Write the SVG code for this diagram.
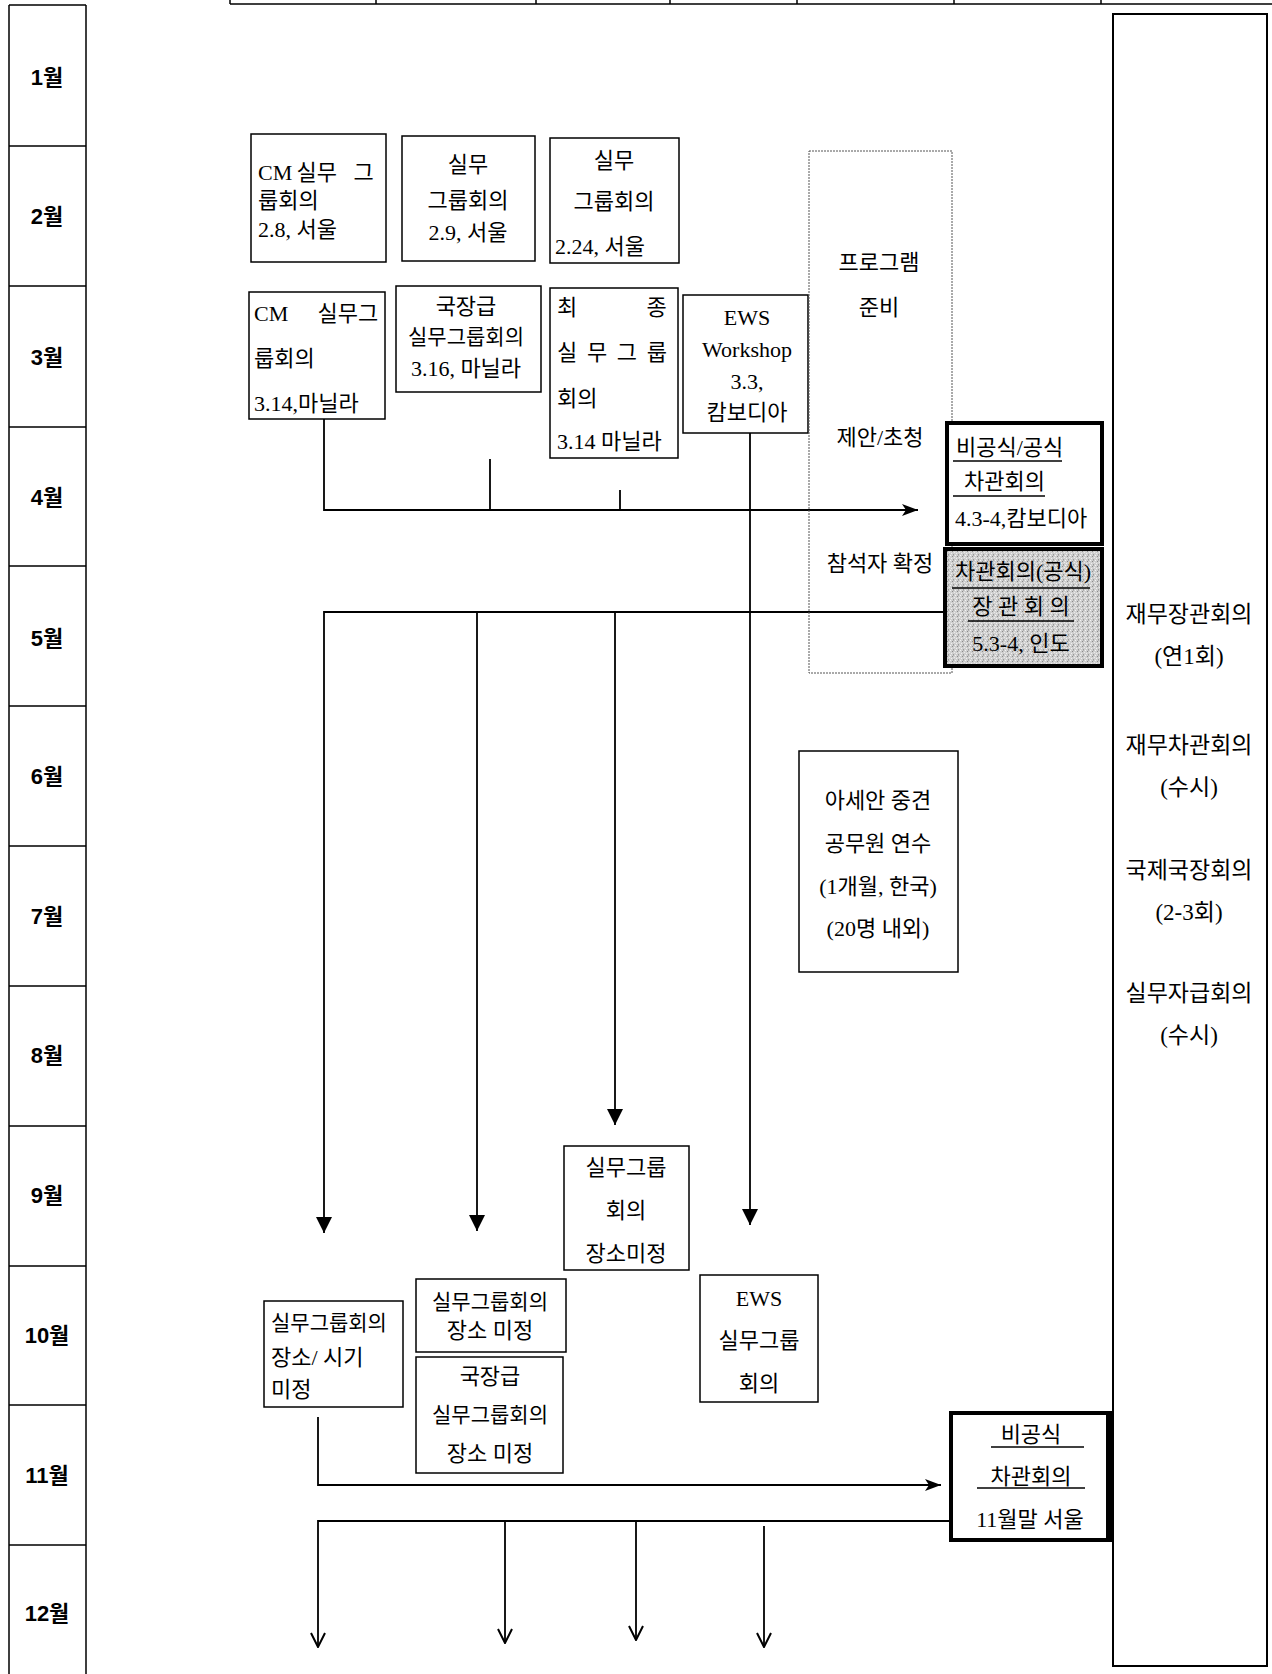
<svg xmlns="http://www.w3.org/2000/svg" width="1272" height="1674" viewBox="0 0 1272 1674">
<style>
.t{font-family:'Liberation Serif','Noto Sans CJK KR',serif;font-size:22px;fill:#000;dominant-baseline:central}
.s{font-size:21px}
.c{text-anchor:middle}
.m{font-family:'Liberation Sans','Noto Sans CJK KR',sans-serif;font-size:22px;font-weight:bold;text-anchor:middle;dominant-baseline:central}
.r{font-size:23px}
.box{fill:#fff;stroke:#000;stroke-width:1.5}
.bold{fill:#fff;stroke:#000;stroke-width:4}
.ln{stroke:#000;stroke-width:1.5;fill:none}
.ul{stroke:#000;stroke-width:1.5}
.cn{stroke:#000;stroke-width:1.8;fill:none}
</style>
<defs>
<marker id="tri" markerUnits="userSpaceOnUse" viewBox="0 0 16 16" refX="16" refY="8" markerWidth="16" markerHeight="16" orient="auto"><path d="M0,0 L16,8 L0,16 z" fill="#000"/></marker>
<marker id="har" markerUnits="userSpaceOnUse" viewBox="0 0 16 12" refX="16" refY="6" markerWidth="16" markerHeight="12" orient="auto"><path d="M0,0 L16,6 L0,12 L4,6 z" fill="#000"/></marker>
<marker id="vee" markerUnits="userSpaceOnUse" viewBox="0 0 16 16" refX="15" refY="8" markerWidth="16" markerHeight="16" orient="auto"><path d="M1,1 L15,8 L1,15" fill="none" stroke="#000" stroke-width="2"/></marker>
<pattern id="noise" width="5" height="5" patternUnits="userSpaceOnUse"><rect width="5" height="5" fill="#cfcfcf"/><rect x="0" y="0" width="1" height="1" fill="#f4f4f4"/><rect x="2" y="1" width="1" height="1" fill="#8a8a8a"/><rect x="4" y="2" width="1" height="1" fill="#ececec"/><rect x="1" y="3" width="1" height="1" fill="#f0f0f0"/><rect x="3" y="4" width="1" height="1" fill="#9a9a9a"/><rect x="3" y="0" width="1" height="1" fill="#b0b0b0"/></pattern>
</defs>
<rect width="1272" height="1674" fill="#fff"/>

<g id="top-table">
<path class="ln" d="M230,4 H1272 M230,0 V4 M376,0 V4 M536,0 V4 M670,0 V4 M797,0 V4 M954,0 V4 M1101,0 V4"/>
</g>

<g id="months">
<path class="ln" d="M9,5 H86 M9,5 V1674 M86,5 V1674 M9,146 H86 M9,286 H86 M9,427 H86 M9,566 H86 M9,706 H86 M9,846 H86 M9,986 H86 M9,1126 H86 M9,1266 H86 M9,1405 H86 M9,1545 H86"/>
<text class="m" x="47" y="77">1월</text>
<text class="m" x="47" y="216">2월</text>
<text class="m" x="47" y="357">3월</text>
<text class="m" x="47" y="497">4월</text>
<text class="m" x="47" y="638">5월</text>
<text class="m" x="47" y="776">6월</text>
<text class="m" x="47" y="916">7월</text>
<text class="m" x="47" y="1055">8월</text>
<text class="m" x="47" y="1195">9월</text>
<text class="m" x="47" y="1335">10월</text>
<text class="m" x="47" y="1475">11월</text>
<text class="m" x="47" y="1613">12월</text>
</g>

<g id="right-summary">
<rect x="1113" y="14" width="154" height="1652" fill="#fff" stroke="#000" stroke-width="2"/>
<text class="t c r" x="1189" y="614">재무장관회의</text>
<text class="t c r" x="1189" y="656">(연1회)</text>
<text class="t c r" x="1189" y="745">재무차관회의</text>
<text class="t c r" x="1189" y="787">(수시)</text>
<text class="t c r" x="1189" y="870">국제국장회의</text>
<text class="t c r" x="1189" y="912">(2-3회)</text>
<text class="t c r" x="1189" y="993">실무자급회의</text>
<text class="t c r" x="1189" y="1035">(수시)</text>
</g>

<g id="connectors">
<path class="cn" d="M324,393 V510 H918" marker-end="url(#har)"/>
<path class="cn" d="M490,459 V510 M620,490 V510"/>
<path class="cn" d="M943,612 H324 V1233" marker-end="url(#tri)"/>
<path class="cn" d="M477,612 V1231" marker-end="url(#tri)"/>
<path class="cn" d="M615,612 V1125" marker-end="url(#tri)"/>
<path class="cn" d="M750,433 V1225" marker-end="url(#tri)"/>
<path class="cn" d="M318,1417 V1485 H941" marker-end="url(#har)"/>
<path class="cn" d="M949,1521 H318 V1647" marker-end="url(#vee)"/>
<path class="cn" d="M505,1521 V1643" marker-end="url(#vee)"/>
<path class="cn" d="M636,1521 V1640" marker-end="url(#vee)"/>
<path class="cn" d="M764,1526 V1647" marker-end="url(#vee)"/>
</g>

<g id="n-cm-feb">
<rect class="box" x="251" y="134" width="135" height="128"/>
<text class="t" x="258" y="172">CM<tspan x="291"> 실무</tspan><tspan x="348"> 그</tspan></text>
<text class="t" x="258" y="200">룹회의</text>
<text class="t" x="258" y="229">2.8, 서울</text>
</g>

<g id="n-wg-feb9">
<rect class="box" x="402" y="136" width="133" height="125"/>
<text class="t c" x="468" y="164">실무</text>
<text class="t c" x="468" y="200">그룹회의</text>
<text class="t c" x="468" y="232">2.9, 서울</text>
</g>

<g id="n-wg-feb24">
<rect class="box" x="550" y="138" width="129" height="125"/>
<text class="t c" x="614" y="160">실무</text>
<text class="t c" x="614" y="201">그룹회의</text>
<text class="t" x="555" y="246">2.24, 서울</text>
</g>

<g id="n-cm-mar">
<rect class="box" x="249" y="292" width="136" height="127"/>
<text class="t" x="254" y="313">CM<tspan x="312"> 실무그</tspan></text>
<text class="t" x="254" y="358">룹회의</text>
<text class="t" x="254" y="403">3.14,마닐라</text>
</g>

<g id="n-dg-mar">
<rect class="box" x="396" y="286" width="145" height="106"/>
<text class="t c" x="466" y="306">국장급</text>
<text class="t c s" x="466" y="337">실무그룹회의</text>
<text class="t c" x="466" y="368">3.16, 마닐라</text>
</g>

<g id="n-final-mar">
<rect class="box" x="550" y="288" width="128" height="170"/>
<text class="t" x="557" y="307">최<tspan x="641"> 종</tspan></text>
<text class="t" x="557" y="352" textLength="110" lengthAdjust="spacing">실 무 그 룹</text>
<text class="t" x="557" y="398">회의</text>
<text class="t" x="557" y="441">3.14 마닐라</text>
</g>

<g id="n-ews-mar">
<rect class="box" x="683" y="295" width="125" height="138"/>
<text class="t c" x="747" y="317">EWS</text>
<text class="t c" x="747" y="349">Workshop</text>
<text class="t c" x="747" y="381">3.3,</text>
<text class="t c" x="747" y="412">캄보디아</text>
</g>

<g id="n-program">
<rect x="809" y="151" width="143" height="522" fill="none" stroke="#555" stroke-width="1" stroke-dasharray="2,1"/>
<text class="t c" x="879" y="262">프로그램</text>
<text class="t c" x="879" y="307">준비</text>
<text class="t c" x="880" y="437">제안/초청</text>
<text class="t c" x="880" y="563">참석자 확정</text>
</g>

<g id="n-vice-apr">
<rect class="bold" x="947" y="423" width="155" height="121"/>
<text class="t" x="956" y="447">비공식/공식</text>
<line class="ul" x1="953" y1="461" x2="1062" y2="461"/>
<text class="t" x="964" y="481">차관회의</text>
<line class="ul" x1="953" y1="496" x2="1045" y2="496"/>
<text class="t" x="955" y="518">4.3-4,캄보디아</text>
</g>

<g id="n-minister-may">
<rect x="945" y="549" width="157" height="117" fill="url(#noise)" stroke="#000" stroke-width="4"/>
<text class="t c" x="1023" y="571">차관회의(공식)</text>
<line class="ul" x1="952" y1="588" x2="1090" y2="588"/>
<text class="t c" x="1021" y="606">장 관 회 의</text>
<line class="ul" x1="968" y1="621" x2="1074" y2="621"/>
<text class="t c" x="1021" y="643">5.3-4, 인도</text>
</g>

<g id="n-asean">
<rect class="box" x="799" y="751" width="159" height="221"/>
<text class="t c" x="878" y="800">아세안 중견</text>
<text class="t c" x="878" y="843">공무원 연수</text>
<text class="t c" x="878" y="886">(1개월, 한국)</text>
<text class="t c" x="878" y="928">(20명 내외)</text>
</g>

<g id="n-wg-sep">
<rect class="box" x="564" y="1146" width="125" height="124"/>
<text class="t c" x="626" y="1167">실무그룹</text>
<text class="t c" x="626" y="1210">회의</text>
<text class="t c" x="626" y="1253">장소미정</text>
</g>

<g id="n-ews-oct">
<rect class="box" x="700" y="1275" width="118" height="127"/>
<text class="t c" x="759" y="1298">EWS</text>
<text class="t c" x="759" y="1340">실무그룹</text>
<text class="t c" x="759" y="1383">회의</text>
</g>

<g id="n-wg-oct">
<rect class="box" x="264" y="1301" width="139" height="106"/>
<text class="t s" x="271" y="1323">실무그룹회의</text>
<text class="t" x="271" y="1357">장소/ 시기</text>
<text class="t" x="271" y="1389">미정</text>
</g>

<g id="n-wg-oct2">
<rect class="box" x="416" y="1279" width="150" height="73"/>
<text class="t c s" x="490" y="1302">실무그룹회의</text>
<text class="t c" x="490" y="1330">장소 미정</text>
</g>

<g id="n-dg-oct">
<rect class="box" x="416" y="1357" width="147" height="116"/>
<text class="t c" x="490" y="1376">국장급</text>
<text class="t c s" x="490" y="1415">실무그룹회의</text>
<text class="t c" x="490" y="1453">장소 미정</text>
</g>

<g id="n-vice-nov">
<rect class="bold" x="951" y="1413" width="159" height="127"/>
<line x1="1109" y1="1413" x2="1109" y2="1540" stroke="#000" stroke-width="6"/>
<text class="t c" x="1031" y="1434">비공식</text>
<line class="ul" x1="991" y1="1447" x2="1084" y2="1447"/>
<text class="t c" x="1031" y="1476">차관회의</text>
<line class="ul" x1="977" y1="1488" x2="1085" y2="1488"/>
<text class="t c" x="1030" y="1519">11월말 서울</text>
</g>
</svg>
